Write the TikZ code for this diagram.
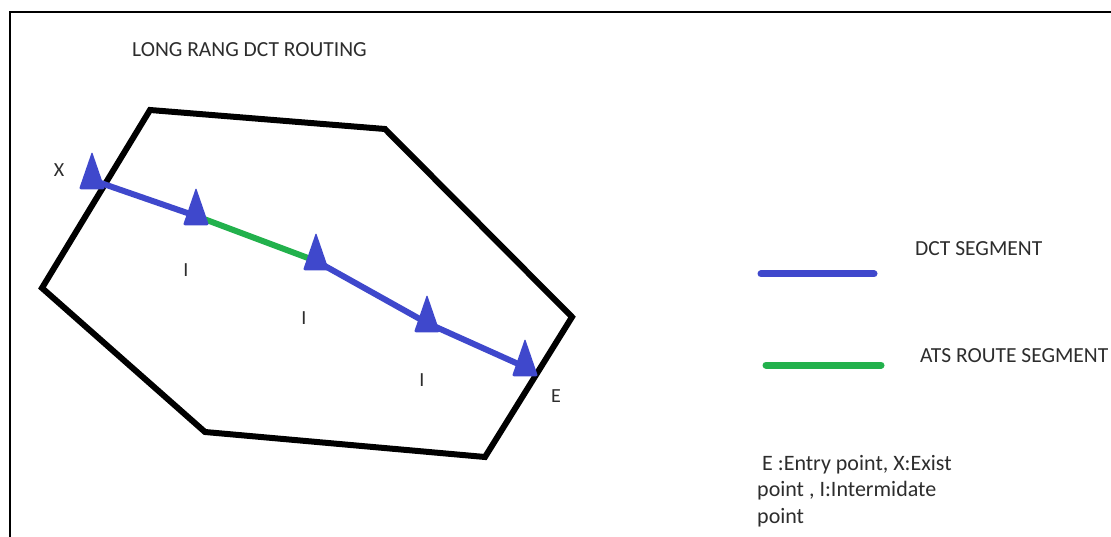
\documentclass[tikz,border=0pt]{standalone}
\usepackage{fontspec}
\setmainfont{Carlito}
\usetikzlibrary{shapes.geometric}
\definecolor{dctblue}{RGB}{63,72,204}
\definecolor{atsgreen}{RGB}{34,177,76}
\definecolor{txt}{RGB}{45,45,45}
\begin{document}
\begin{tikzpicture}[x=1pt,y=-1pt,
  zone/.style={line width=6pt,line join=miter,black},
  dct/.style={line width=6pt,dctblue},
  ats/.style={line width=6pt,atsgreen},
  wpt/.style={isosceles triangle,shape border rotate=90,isosceles triangle apex angle=38,
    minimum height=37pt,minimum width=26pt,inner sep=0pt,fill=dctblue,rounded corners=2pt},
  lbl/.style={font=\fontsize{20}{24}\selectfont,text=txt,inner sep=0pt},
  legtxt/.style={font=\fontsize{21.5}{24}\selectfont,text=txt,inner sep=0pt,anchor=west},
  legline/.style={line width=7pt,line cap=round}]
\useasboundingbox (0,0) rectangle (1111,537);
\fill[white] (0,0) rectangle (1111,537);
% frame
\draw[line width=2pt] (9.5,537) -- (9.5,12.5) -- (1111,12.5);
% title
\node[legtxt] (title) at (132,50) {LONG RANG DCT ROUTING};
% zone
\draw[zone] (150,110) -- (385,129) -- (572,317) -- (485,457) -- (205,432) -- (42,288) -- cycle;
% waypoints
\coordinate (pX) at (92,180);
\coordinate (p1) at (196,216);
\coordinate (p2) at (316,261);
\coordinate (p3) at (427,323);
\coordinate (pE) at (525,367);
\draw[dct] (pX) -- (p1);
\draw[ats] (p1) -- (p2);
\draw[dct] (p2) -- (p3) -- (pE);
\node[wpt] (tX) at (pX) {};
\node[wpt] (t1) at (p1) {};
\node[wpt] (t2) at (p2) {};
\node[wpt] (t3) at (p3) {};
\node[wpt] (tE) at (pE) {};
% labels
\node[lbl] (lX) at (59,170) {X};
\node[lbl] (l1) at (186,270) {I};
\node[lbl] (l2) at (304,318) {I};
\node[lbl] (l3) at (422,380) {I};
\node[lbl] (lE) at (556,396) {E};
% legend
\coordinate (b1) at (761,274);
\coordinate (b2) at (874,274);
\coordinate (g1) at (766,365);
\coordinate (g2) at (881,365);
\draw[legline,dctblue] (b1) -- (b2);
\draw[legline,atsgreen] (g1) -- (g2);
\node[legtxt] (ldct) at (915,249) {DCT SEGMENT};
\node[legtxt] (lats) at (920,356) {ATS ROUTE SEGMENT};
\node[legtxt,anchor=north west,align=left,font=\fontsize{22}{26.5}\selectfont] (note) at (757,455)
  {\ E :Entry point, X:Exist\\point , I:Intermidate\\point};
\end{tikzpicture}
\end{document}
